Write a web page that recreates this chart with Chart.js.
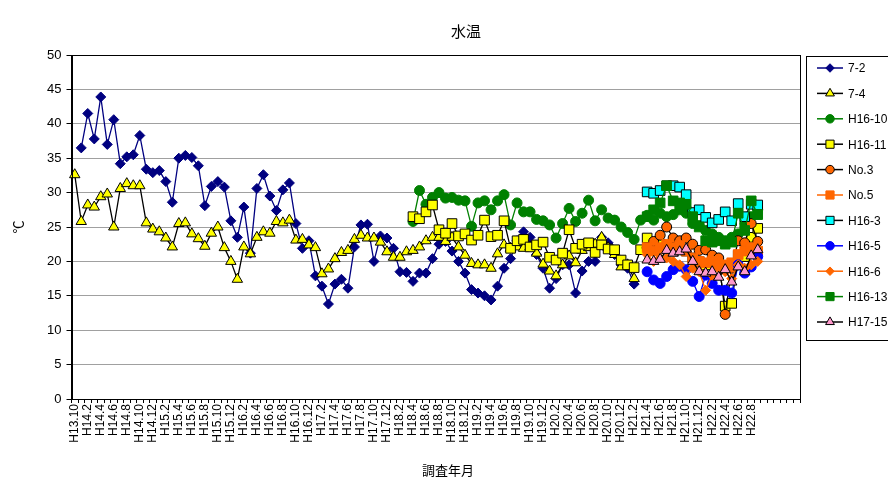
<!DOCTYPE html>
<html lang="ja">
<head>
<meta charset="utf-8">
<title>水温</title>
<script src="https://cdn.jsdelivr.net/npm/chart.js@4.4.1/dist/chart.umd.min.js"></script>
<style>
  html, body { margin: 0; padding: 0; background: #fff; }
</style>
</head>
<body>
<canvas id="chart" width="888" height="481"></canvas>
<script>
// Survey months: H13.10, then monthly from H14.1 to H22.9, then empty slots
const months = ['H13.10'];
for (let k = 0; k < 105; k++) {
  months.push(`H${14 + Math.floor(k / 12)}.${(k % 12) + 1}`);
}
while (months.length < 112) months.push('');

const yTicks = [0, 5, 10, 15, 20, 25, 30, 35, 40, 45, 50];

// water temperature (°C) per well, each list starts at its first survey month index
const start72 = 1;
const temp72 = [
  36.5, 41.5, 37.8, 43.9, 37.0, 40.6, 34.2, 35.2, 35.5, 38.3,
  33.4, 32.9, 33.2, 31.6, 28.6, 35.0, 35.4, 35.1, 33.9, 28.1,
  30.9, 31.6, 30.8, 25.9, 23.5, 27.9, 21.2, 30.6, 32.6, 29.5,
  27.4, 30.4, 31.4, 25.5, 21.9, 23.0, 17.9, 16.4, 13.8, 16.7,
  17.4, 16.1, 22.1, 25.3, 25.4, 20.0, 23.7, 23.4, 21.9, 18.5,
  18.4, 17.1, 18.3, 18.3, 20.4, 22.5, 22.9, 21.5, 20.0, 18.3,
  15.9, 15.4, 15.0, 14.4, 16.4, 19.0, 20.4, 23.0, 24.3, 23.5,
  21.0, 19.0, 16.1, 17.5, 19.5, 19.5, 15.4, 18.6, 20.0, 20.0,
  23.5, 22.7, 21.0, 19.5, 19.0, 16.7
];
const start74 = 0;
const temp74 = [
  32.6, 25.8, 28.2, 27.9, 29.4, 29.8, 25.0, 30.6, 31.3, 31.0,
  31.0, 25.6, 24.7, 24.3, 23.4, 22.1, 25.5, 25.6, 24.0, 23.3,
  22.2, 24.1, 25.0, 22.0, 20.0, 17.4, 22.1, 21.1, 23.5, 24.3,
  24.1, 25.8, 25.6, 26.0, 23.1, 23.2, 22.4, 22.0, 18.2, 18.9,
  20.4, 21.3, 21.6, 23.2, 23.8, 23.4, 23.4, 22.8, 21.4, 20.6,
  20.6, 21.4, 21.6, 22.1, 23.0, 23.5, 23.5, 22.9, 23.5, 22.1,
  20.9, 19.7, 19.5, 19.5, 19.0, 21.1, 22.4, 21.9, 22.1, 21.9,
  22.1, 21.2, 19.6, 18.6, 17.9, 19.5, 20.8, 19.8, 21.6, 22.0,
  22.5, 23.5, 22.0, 21.0, 19.2, 19.5, 17.5
];
const startH1610 = 52;
const tempH1610 = [
  25.8, 30.3, 28.3, 29.3, 30.0, 29.2, 29.3, 28.9, 28.8, 25.1,
  28.5, 28.8, 27.5, 28.8, 29.7, 25.3, 28.5, 27.2, 27.2, 26.1,
  25.9, 25.3, 23.4, 25.5, 27.7, 25.8, 27.0, 28.9, 25.9, 27.5,
  26.3, 26.0, 25.0, 24.2, 23.2, 26.0, 26.7, 26.0, 27.0, 26.5,
  26.8, 27.5, 27.0, 25.5, 25.2, 24.5, 24.0, 23.5, 23.0, 23.5,
  24.0, 25.5, 26.5, 27.5
];
const startH1611 = 52;
const tempH1611 = [
  26.5, 26.2, 27.2, 28.2, 24.6, 24.1, 25.5, 23.7, 24.0, 23.1,
  23.8, 26.0, 23.6, 23.8, 25.9, 21.9, 23.0, 23.2, 22.1, 22.4,
  22.8, 20.6, 20.2, 21.2, 24.6, 21.9, 22.5, 22.7, 21.3, 22.4,
  21.8, 21.7, 20.2, 19.5, 19.1, 21.7, 23.4, 22.0, 22.5, 22.0,
  21.5, 22.0, 21.5, 20.5, 20.0, 19.5, 20.0, 19.5, 13.5, 13.9,
  20.9, 20.7, 23.5, 24.8
];
// wells added from H21.4
const startLate = 88;
const tempNo3 = [22.0, 22.9, 23.8, 25.0, 23.4, 23.0, 23.4, 22.5, 21.6, 21.7, 20.9, 20.5, 12.3, 19.0, 23.0, 22.7, 25.5, 22.9];
const tempNo5 = [22.0, 21.5, 22.0, 22.5, 22.0, 22.3, 21.5, 20.5, 20.0, 19.8, 20.0, 19.5, 19.5, 19.8, 21.0, 21.5, 22.0, 21.5];
const tempH163 = [30.1, 29.9, 30.3, 31.0, 31.0, 30.8, 29.7, 27.1, 27.5, 26.4, 25.6, 26.1, 27.2, 25.9, 28.4, 26.5, 28.3, 28.2];
const tempH165 = [18.5, 17.3, 16.8, 17.8, 18.8, 19.3, 18.8, 17.1, 14.9, 18.0, 16.8, 15.8, 15.8, 15.4, 19.5, 18.3, 19.2, 20.7];
const tempH166 = [21.0, 20.0, 20.5, 20.5, 20.0, 19.5, 17.8, 19.0, 18.5, 15.8, 18.0, 19.0, 18.5, 17.5, 19.5, 19.0, 19.5, 20.0];
const tempH1613 = [26.5, 27.5, 28.5, 31.0, 28.8, 28.5, 28.3, 26.5, 25.0, 23.0, 22.8, 23.0, 22.5, 22.8, 27.0, 24.5, 28.8, 26.8];
const tempH1715 = [20.2, 20.0, 20.3, 21.6, 21.2, 21.4, 21.8, 20.0, 18.5, 18.3, 18.5, 17.7, 18.8, 17.0, 19.2, 18.5, 20.8, 21.7];

function onMonths(first, values) {
  const row = new Array(months.length).fill(null);
  values.forEach((v, k) => { row[first + k] = v; });
  return row;
}

const FONT = '"Liberation Sans", Arial, sans-serif';
const FONT_JP = '"Noto Sans CJK JP", "Liberation Sans", sans-serif';

const series = [
  { label: '7-2', data: onMonths(start72, temp72), line: '#000080', shape: 'rectRot', r: 5, fill: '#000080', edge: '#000080' },
  { label: '7-4', data: onMonths(start74, temp74), line: '#000000', shape: 'triangle', r: 6, fill: '#FFFF00', edge: '#000000' },
  { label: 'H16-10', data: onMonths(startH1610, tempH1610), line: '#008000', shape: 'circle', r: 5, fill: '#008000', edge: '#008000' },
  { label: 'H16-11', data: onMonths(startH1611, tempH1611), line: '#000000', shape: 'rect', r: 6.8, fill: '#FFFF00', edge: '#000000' },
  { label: 'No.3', data: onMonths(startLate, tempNo3), line: '#000000', shape: 'circle', r: 5, fill: '#FF6600', edge: '#000000' },
  { label: 'No.5', data: onMonths(startLate, tempNo5), line: '#FF6600', shape: 'rect', r: 6.8, fill: '#FF6600', edge: '#FF6600' },
  { label: 'H16-3', data: onMonths(startLate, tempH163), line: '#000000', shape: 'rect', r: 6.8, fill: '#00FFFF', edge: '#000000' },
  { label: 'H16-5', data: onMonths(startLate, tempH165), line: '#0000FF', shape: 'circle', r: 5, fill: '#0000FF', edge: '#0000FF' },
  { label: 'H16-6', data: onMonths(startLate, tempH166), line: '#FF6600', shape: 'rectRot', r: 5, fill: '#FF6600', edge: '#FF6600' },
  { label: 'H16-13', data: onMonths(startLate, tempH1613), line: '#008000', shape: 'rect', r: 6.8, fill: '#008000', edge: '#008000' },
  { label: 'H17-15', data: onMonths(startLate, tempH1715), line: '#000000', shape: 'triangle', r: 6, fill: '#FF99CC', edge: '#000000' },
];

// plot frame, chart title, x axis title and the boxed legend on the right
const decorations = {
  id: 'decorations',
  afterDraw(chart) {
    const { ctx, chartArea: a } = chart;
    ctx.save();
    ctx.strokeStyle = '#000';
    ctx.lineWidth = 1;
    const l = Math.round(a.left) + 0.5, t = Math.round(a.top) + 0.5;
    const rt = Math.round(a.right) + 0.5, b = Math.round(a.bottom) + 0.5;
    ctx.strokeRect(l, t, rt - l, b - t);

    ctx.fillStyle = '#000';
    ctx.textAlign = 'center';
    ctx.textBaseline = 'middle';
    ctx.font = `15px ${FONT_JP}`;
    ctx.fillText('水温', 466, 31);
    ctx.font = `13px ${FONT_JP}`;
    ctx.fillText('調査年月', 448, 470);

    // legend
    const bx = 806.5, by = 56.5;
    ctx.strokeRect(bx, by, 100, 284);
    ctx.font = `12px ${FONT}`;
    ctx.textAlign = 'left';
    series.forEach((s, k) => {
      const y = 68 + k * 25.4;
      ctx.strokeStyle = s.line;
      ctx.lineWidth = 1.5;
      ctx.beginPath();
      ctx.moveTo(817, y);
      ctx.lineTo(843, y);
      ctx.stroke();
      ctx.fillStyle = s.fill;
      ctx.strokeStyle = s.edge;
      ctx.lineWidth = 1;
      Chart.helpers.drawPoint(ctx, { pointStyle: s.shape, radius: s.r * 0.85, rotation: 0, borderWidth: 1 }, 830, y);
      ctx.fillStyle = '#000';
      ctx.fillText(s.label, 848, y + 1);
    });
    ctx.restore();
  }
};

new Chart(document.getElementById('chart'), {
  type: 'line',
  data: {
    labels: months,
    datasets: series.map((s, k) => ({
      label: s.label,
      data: s.data,
      borderColor: s.line,
      borderWidth: 1.3,
      backgroundColor: s.fill,
      pointStyle: s.shape,
      pointRadius: s.r,
      pointBackgroundColor: s.fill,
      pointBorderColor: s.edge,
      pointBorderWidth: 1,
      tension: 0,
      spanGaps: false,
      order: series.length - k,
    })),
  },
  options: {
    responsive: false,
    animation: false,
    events: [],
    layout: { padding: { top: 55, right: 88, bottom: 0, left: 0 } },
    plugins: {
      legend: { display: false },
      title: { display: false },
      tooltip: { enabled: false },
    },
    scales: {
      x: {
        offset: true,
        grid: {
          offset: true,
          drawOnChartArea: false,
          drawTicks: true,
          tickLength: 4,
          tickColor: '#000',
          color: '#000',
        },
        border: { display: true, color: '#000' },
        ticks: {
          autoSkip: false,
          minRotation: 90,
          maxRotation: 90,
          padding: 1,
          color: '#000',
          font: { family: FONT, size: 12 },
          callback(value, index) {
            return index % 2 === 0 ? this.getLabelForValue(value) : '';
          },
        },
        afterFit(scale) { scale.height = 82; },
      },
      y: {
        min: yTicks[0],
        max: yTicks[yTicks.length - 1],
        afterBuildTicks(scale) { scale.ticks = yTicks.map(v => ({ value: v })); },
        grid: { color: '#a0a0a0', tickColor: '#000', tickLength: 5 },
        border: { display: true, color: '#000' },
        ticks: { color: '#000', padding: 5, font: { family: FONT, size: 13 } },
        title: {
          display: true,
          text: '℃',
          color: '#000',
          padding: { top: 10, bottom: 0 },
          font: { family: FONT_JP, size: 13 },
        },
        afterFit(scale) { scale.width = 71.5; },
      },
    },
  },
  plugins: [decorations],
});
</script>
</body>
</html>
